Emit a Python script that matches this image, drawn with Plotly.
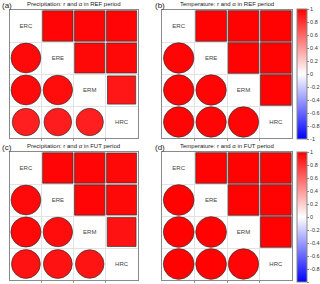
import plotly.graph_objects as go

variables = ["ERC", "ERE", "ERM", "HRC"]
pair_i = [1, 2, 2, 3, 3, 3]   # row index (lower triangle)
pair_j = [0, 0, 1, 0, 1, 2]   # col index

titles = ["Precipitation: r and \u03b1 in REF period",
          "Temperature: r and \u03b1 in REF period",
          "Precipitation: r and \u03b1 in FUT period",
          "Temperature: r and \u03b1 in FUT period"]
panel_labels = ["(a)", "(b)", "(c)", "(d)"]

# correlation r (circles, lower triangle) in pair order
r_pr_ref = [0.96, 0.96, 0.95, 0.88, 0.89, 0.88]
r_tas_ref = [0.98, 0.98, 0.98, 0.98, 0.98, 0.98]
r_pr_fut = [0.96, 0.97, 0.95, 0.93, 0.93, 0.92]
r_tas_fut = [0.99, 0.99, 0.99, 0.99, 0.99, 0.98]
# alpha (squares, upper triangle) in pair order (transposed position)
a_pr_ref = [0.98, 0.98, 0.97, 0.98, 0.97, 0.91]
a_tas_ref = [0.99, 0.99, 0.99, 0.99, 0.99, 0.99]
a_pr_fut = [0.98, 0.98, 0.98, 0.97, 0.97, 0.93]
a_tas_fut = [0.99, 0.99, 0.99, 0.99, 0.99, 0.99]

r_sets = [r_pr_ref, r_tas_ref, r_pr_fut, r_tas_fut]
a_sets = [a_pr_ref, a_tas_ref, a_pr_fut, a_tas_fut]

W, H = 320, 284
boxes = [(10, 138, 10, 138), (163, 293, 10, 138), (10, 138, 152, 280), (163, 293, 152, 280)]
cscale = [[0, "rgb(0,0,255)"], [0.5, "rgb(255,255,255)"], [1, "rgb(255,0,0)"]]
MAXPX = 31

fig = go.Figure()
for k in range(4):
    x0, x1, y0, y1 = boxes[k]
    xa = "xaxis" if k == 0 else f"xaxis{k+1}"
    ya = "yaxis" if k == 0 else f"yaxis{k+1}"
    xr = "x" if k == 0 else f"x{k+1}"
    yr = "y" if k == 0 else f"y{k+1}"
    cax = "coloraxis" if k in (0, 1) else "coloraxis2"
    r = r_sets[k]
    a = a_sets[k]
    # circles
    fig.add_trace(go.Scatter(
        x=[j + 1 for j in pair_j], y=[i + 1 for i in pair_i], mode="markers",
        marker=dict(symbol="circle", size=[v * MAXPX for v in r], color=r, opacity=1,
                    coloraxis=cax, line=dict(color="#333", width=0.7)),
        xaxis=xr, yaxis=yr, showlegend=False, hoverinfo="skip"))
    # squares
    fig.add_trace(go.Scatter(
        x=[i + 1 for i in pair_i], y=[j + 1 for j in pair_j], mode="markers",
        marker=dict(symbol="square", size=[v * MAXPX for v in a], color=a, opacity=1,
                    coloraxis=cax, line=dict(color="#333", width=0.7)),
        xaxis=xr, yaxis=yr, showlegend=False, hoverinfo="skip"))
    # diagonal labels
    fig.add_trace(go.Scatter(
        x=[1, 2, 3, 4], y=[1, 2, 3, 4], mode="text", text=variables,
        textfont=dict(size=6, color="#444", family="Liberation Sans"),
        xaxis=xr, yaxis=yr, showlegend=False, hoverinfo="skip"))
    axcommon = dict(range=[0.5, 4.5], tickvals=[1.5, 2.5, 3.5], showticklabels=False,
                    showgrid=True, gridcolor="#e2e2e2", gridwidth=1, zeroline=False,
                    showline=True, mirror=True, linecolor="#8a8a8a", linewidth=1,
                    ticks="", fixedrange=True)
    fig.layout[xa] = dict(axcommon, domain=[x0 / W, x1 / W], anchor=yr,
                          ticks="outside", ticklen=2, tickcolor="#999")
    fig.layout[ya] = dict(axcommon, domain=[1 - y1 / H, 1 - y0 / H], anchor=xr,
                          range=[4.5, 0.5])
    fig.add_annotation(x=(x0 + x1) / 2 / W, y=1 - (y0 - 1) / H, xref="paper", yref="paper",
                       text=titles[k], showarrow=False, xanchor="center", yanchor="bottom",
                       font=dict(size=6, color="#222", family="Liberation Sans"))
    fig.add_annotation(x=(x0 - 10) / W, y=1 - (y0 - 11) / H, xref="paper", yref="paper",
                       text=panel_labels[k], showarrow=False, xanchor="left", yanchor="top",
                       font=dict(size=8, color="#222", family="Liberation Sans"))

cb_common = dict(thickness=10, thicknessmode="pixels", lenmode="fraction",
                 len=130 / H, x=297 / W, xanchor="left", yanchor="top",
                 tickvals=[-1, -0.8, -0.6, -0.4, -0.2, 0, 0.2, 0.4, 0.6, 0.8, 1],
                 ticktext=["-1", "-0.8", "-0.6", "-0.4", "-0.2", "0", "0.2", "0.4", "0.6", "0.8", "1"],
                 ticks="outside", ticklen=2, tickcolor="#888",
                 tickfont=dict(size=5.5, color="#333", family="Liberation Sans"),
                 outlinewidth=1, outlinecolor="#888", xpad=0, ypad=0)
fig.update_layout(
    width=W, height=H, margin=dict(l=0, r=0, t=0, b=0),
    paper_bgcolor="white", plot_bgcolor="white",
    coloraxis=dict(colorscale=cscale, cmin=-1, cmax=1,
                   colorbar=dict(cb_common, y=1 - 9 / H)),
    coloraxis2=dict(colorscale=cscale, cmin=-1, cmax=1,
                    colorbar=dict(cb_common, y=1 - 152 / H)),
)
fig.write_html("out.html", config={"displayModeBar": False},
               post_script="document.body.style.margin='0';document.body.style.padding='0';")
